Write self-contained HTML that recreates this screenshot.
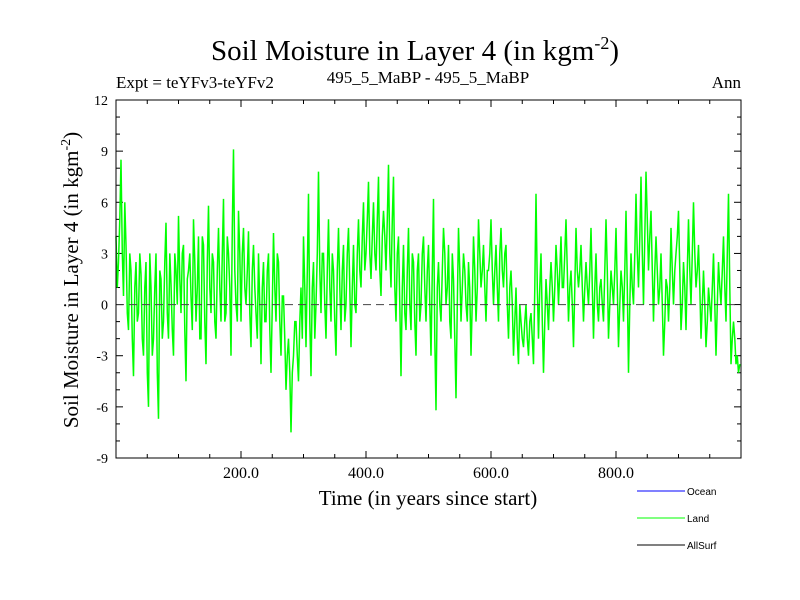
<!DOCTYPE html>
<html><head><meta charset="utf-8"><style>
body{margin:0;background:#fff;}
svg{display:block;}
text{font-family:"Liberation Serif",serif;fill:#000;}
.leg{font-family:"Liberation Sans",sans-serif;font-size:10px;}
</style></head><body>
<svg id="chart" width="800" height="600">
<text x="415" y="60" text-anchor="middle" font-size="29">Soil Moisture in Layer 4 (in kgm<tspan dy="-11" font-size="18">-2</tspan><tspan dy="11">)</tspan></text>
<text x="116" y="88" font-size="17">Expt = teYFv3-teYFv2</text>
<text x="428" y="83" text-anchor="middle" font-size="17">495_5_MaBP - 495_5_MaBP</text>
<text x="741" y="88" text-anchor="end" font-size="17">Ann</text>
<text transform="translate(78,280) rotate(-90)" text-anchor="middle" font-size="21">Soil Moisture in Layer 4 (in kgm<tspan dy="-8" font-size="14">-2</tspan><tspan dy="8">)</tspan></text>
<text x="428" y="505" text-anchor="middle" font-size="21">Time (in years since start)</text>
<g id="axes"></g>
<g id="series"></g>
<rect x="116" y="100" width="625" height="358" fill="none" stroke="#000" stroke-width="1"/>
<g>
<line x1="637" y1="491" x2="685" y2="491" stroke="#0000ff"/>
<text class="leg" x="687" y="495">Ocean</text>
<line x1="637" y1="518" x2="685" y2="518" stroke="#00ff00"/>
<text class="leg" x="687" y="522">Land</text>
<line x1="637" y1="545" x2="685" y2="545" stroke="#000"/>
<text class="leg" x="687" y="549">AllSurf</text>
</g>
</svg>
<script>
const yTicks=[-9,-6,-3,0,3,6,9,12];
const xTicks=[200,400,600,800];
const xTickLabels=["200.0","400.0","600.0","800.0"];
const yearStep=2;
const landEven=[
4,2.5,8.5,0.5,3.5,-1.5,2,-4.2,2.5,-0.5,1.8,-3,2.5,-6,1,-2,3,-6.7,1.5,-1,4.8,-2,1.2,-3,2,
5.2,-0.5,3.5,-4.5,2,0.5,5,-1,4,-2,3.5,-3.5,5.8,-0.5,2.5,-2,4.5,-1,6.2,-0.5,3,-3,9.1,0,5.5,
-1,4.5,0,4.3,-2.5,3.5,-0.5,3,-3.5,2.5,-1,3,-4,4.2,-1,2.5,-3,0.5,-5,-2,-7.5,-3,-1,-4.5,1,
4,-2.5,6.5,-4.2,2.5,0,7.8,-0.5,3,-2,5,-1,2,-3,4.5,-1.5,3.5,0,4.5,-2.5,3.5,-0.5,5,1,6,
3,7.2,1.5,6,2,7.5,0.5,5.5,2,8.2,1,7.5,-1,4,-4.2,3.5,-1.5,4.5,-1.5,2.5,-3,3,0,4,-1,
3.5,-3,6.2,-6.2,2.5,-1,4.5,0,3.5,-2,1.5,-5.5,4.5,-1,3,0,2.5,-3,4,-1,5,1,3.5,-1,2,
5,0,3.5,-1,4.5,1,3.5,-2,2,-3,1,-3.5,-1,-2.5,0,-3,-0.5,-3.5,6.5,-2,3,-4,1.5,-1.5,2.5,
-1,3.5,0,4,1,5,-1,2,-2.5,4.5,1,3.5,-1,2.5,0,4.5,-2,3,-1,1.5,-1,5,-2,2,0,
4.5,-2.5,2,-1,5.5,-4,3,0,6.5,1,7.5,0,7.8,2,5.5,-1,4,0,3,-3,1.5,-1,4.5,0,3,
5.5,-1.5,2.5,-1.5,5,0,6,1,3.5,-2,2,-2.5,1,-1,3,-3,2.5,0,4,-1,6.5,-3.5,-1,-3.5,-4];
const landOdd=[
1,5,3,6,-0.5,3,-2,1,-1,3,-2,1,-4,3,-3,1,-4,2,-2,2.5,-0.5,3,-1.5,3,0,
1.5,3,-1.5,1.5,3,-1.5,2.5,1,-2,4,-1,2.5,1,3,-1,2,1,3,-1,4,1,4.5,2,-1,3,
3,1,2,-0.5,2,1,-2,0,1,-1,2,-1.5,0,1,3,-1,0.5,-2,-3,-4,-4,-1,-3,-1,-2,
1,2,-1,1,-2,3,2,3,0,2,1,3,-1,2,1,2,-1,3,1,1,0,3,2,4,2,
5,3,4,3,5,2,4,4,5,3,5,1,3,0,1,-0.5,2,0,3,-1,2,-1,3,1,2,
0,2,-2,1,0,2,3,1,-1,3,-2,0,2,1,2,-1,1,0,2,1,3,2,1,2,3,
2,2,1,3,2,3,0,1,0,-1,-2,0,-2,-1,-2,-1,-2,1,1,1,-1,-1,0,1,1,
1,2,2,1,3,2,1,0,1,2,2,1,1,1,2,1,1,0,1,0,2,2,0,1,2,
1,0,1,2,1,0,1,3,3,4,3,4,5,4,2,2,2,1,0,-1,1,1,2,2,4,
2,0,1,2,2,3,3,2,1,0,0,-1,0,1,0,0,1,2,1,3,1,-2,-2,-3,-3.5];
const X0=116,X1=741,Y0=458,Y1=100,XMIN=0,XMAX=1000,YMIN=-9,YMAX=12;
const sx=v=>X0+(v-XMIN)/(XMAX-XMIN)*(X1-X0);
const sy=v=>Y0-(v-YMIN)/(YMAX-YMIN)*(Y0-Y1);
const NS="http://www.w3.org/2000/svg";
const axes=document.getElementById('axes'),series=document.getElementById('series');
function mk(t,a,p){const e=document.createElementNS(NS,t);for(const k in a)e.setAttribute(k,a[k]);p.appendChild(e);return e;}
for(let v=YMIN;v<=YMAX;v++){const y=sy(v),L=(v%3===0)?7:4;
 const a=mk('line',{x1:X0,y1:y,x2:X0+L,y2:y,stroke:'#000'},axes);
 
 
 const b=mk('line',{x1:X1,y1:y,x2:X1-L,y2:y,stroke:'#000'},axes);
 
 }
yTicks.forEach(v=>{const t=mk('text',{x:X0-8,y:sy(v)+5,'text-anchor':'end','font-size':14},axes);t.textContent=v;
 
 });
for(let v=50;v<XMAX;v+=50){const x=sx(v),L=(v%200===0)?7:4;
 const a=mk('line',{x1:x,y1:Y0,x2:x,y2:Y0-L,stroke:'#000'},axes);
 
 
 const b=mk('line',{x1:x,y1:Y1,x2:x,y2:Y1+L,stroke:'#000'},axes);
 
 }
xTicks.forEach((v,i)=>{const t=mk('text',{x:sx(v),y:Y0+20,'text-anchor':'middle','font-size':16},axes);t.textContent=xTickLabels[i];
 
 });
const landValues=[];
landEven.forEach((v,i)=>{landValues.push(v);landValues.push(landOdd[i]);});
const pts=landValues.map((v,i)=>sx(i*yearStep).toFixed(1)+','+sy(v).toFixed(1)).join(' ');
const pl=mk('polyline',{points:pts,fill:'none',stroke:'#00ff00','stroke-width':1.5},series);


const z=mk('line',{x1:X0,y1:sy(0),x2:X1,y2:sy(0),stroke:'#444','stroke-dasharray':'8,5','stroke-width':1},series);


</script>
</body></html>
